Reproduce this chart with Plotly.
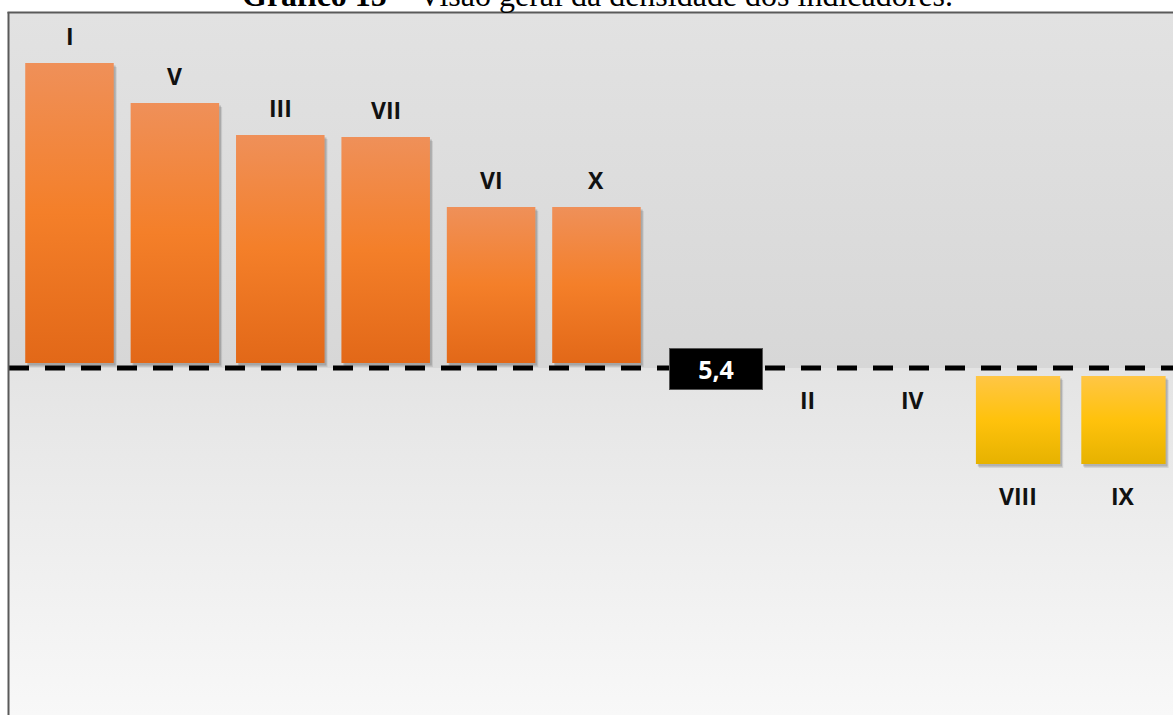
import plotly.graph_objects as go

# Densidade por indicador e média geral
indicadores = ["I", "V", "III", "VII", "VI", "X", "II", "IV", "VIII", "IX"]
densidade = [8.45, 8.05, 7.73, 7.71, 7.01, 7.01, 5.4, 5.4, 4.44, 4.44]
media = 5.4
rotulo_media = "5,4"

# posições no eixo x: a casa 6 fica livre para o rótulo da média
posicoes = [i if i < 6 else i + 1 for i in range(len(indicadores))]
pos_media = 6.13

W, H = 1173, 715
X_RANGE = [-0.574, 10.47]
Y_RANGE = [1.93, 8.95]
LEFT_PX, TOP_PX = 9, 13

GRAD_ACIMA = [[0, "#e26818"], [0.5, "#f47f29"], [1, "#ef9059"]]
GRAD_ABAIXO = [[0, "#e6b200"], [0.5, "#ffc20c"], [1, "#ffc645"]]

fig = go.Figure()


def retangulo(x0, x1, y0, y1):
    return [x0, x1, x1, x0, x0], [y0, y0, y1, y1, y0]


# fundo em degradê (parte superior e inferior à linha da média)
for (y0, y1, cs) in [
    (media, Y_RANGE[1], [[0, "#d7d7d7"], [1, "#e2e2e2"]]),
    (Y_RANGE[0], media, [[0, "#f8f8f8"], [1, "#e4e4e4"]]),
]:
    xs, ys = retangulo(X_RANGE[0], X_RANGE[1], y0, y1)
    fig.add_trace(go.Scatter(
        x=xs, y=ys, mode="lines", fill="toself", line=dict(width=0),
        fillgradient=dict(type="vertical", colorscale=cs, start=y0, stop=y1),
        hoverinfo="skip", showlegend=False,
    ))

# barras a partir da linha da média, com sombra leve
for nome, x, v in zip(indicadores, posicoes, densidade):
    if v == media:
        continue
    acima = v > media
    meia = 0.42 if acima else 0.40
    base = media + 0.05 if acima else media - 0.08
    y0, y1 = (base, v) if acima else (v, base)
    for dx, dy, a in [(0.028, -0.04, 0.12), (0.018, -0.025, 0.22)]:
        xs, ys = retangulo(x - meia + dx, x + meia + dx, y0 + dy, y1 + dy)
        fig.add_trace(go.Scatter(
            x=xs, y=ys, mode="lines", fill="toself", line=dict(width=0),
            fillcolor=f"rgba(60,60,60,{a})", hoverinfo="skip",
            showlegend=False,
        ))
    xs, ys = retangulo(x - meia, x + meia, y0, y1)
    fig.add_trace(go.Scatter(
        x=xs, y=ys, mode="lines", fill="toself", line=dict(width=0),
        fillgradient=dict(type="vertical",
                          colorscale=GRAD_ACIMA if acima else GRAD_ABAIXO,
                          start=y0, stop=y1),
        hoverinfo="skip", showlegend=False,
    ))

# rótulos dos indicadores
for nome, x, v in zip(indicadores, posicoes, densidade):
    acima = v > media
    fig.add_annotation(
        x=x, y=v, text=nome, showarrow=False,
        yanchor="bottom" if acima else "top",
        yshift=9 if acima else -14,
        font=dict(family="Open Sans", size=23, color="#111111", weight="bold"),
    )

# linha tracejada da média
fig.add_shape(
    type="line", xref="paper", yref="y",
    x0=LEFT_PX / W, x1=1, y0=media, y1=media,
    line=dict(color="black", width=5, dash="20px,16px"),
)

# rótulo da média
fig.add_annotation(
    x=pos_media, y=media, text=rotulo_media, showarrow=False,
    bgcolor="black", bordercolor="#555555", borderwidth=1,
    width=90, height=38, yshift=-1,
    font=dict(family="Open Sans", size=25, color="white", weight="bold"),
)

# moldura (esquerda e topo)
fig.add_shape(type="line", xref="paper", yref="paper",
              x0=(LEFT_PX - 0.5) / W, x1=(LEFT_PX - 0.5) / W,
              y0=0, y1=1 - (TOP_PX - 1) / H,
              line=dict(color="#5a5a5a", width=2))
fig.add_shape(type="line", xref="paper", yref="paper",
              x0=(LEFT_PX - 1.5) / W, x1=1,
              y0=1 - (TOP_PX - 0.5) / H, y1=1 - (TOP_PX - 0.5) / H,
              line=dict(color="#5a5a5a", width=2))

# título
fig.add_annotation(
    xref="paper", yref="paper", x=597 / W, y=1 - 7 / H,
    xanchor="center", yanchor="bottom", yshift=-8, showarrow=False,
    text="<b>Gráfico 15</b> – Visão geral da densidade dos indicadores.",
    font=dict(family="Liberation Serif", size=32, color="black"),
)

fig.update_layout(
    width=W, height=H,
    margin=dict(l=0, r=0, t=0, b=0),
    paper_bgcolor="white", plot_bgcolor="white",
    showlegend=False,
    xaxis=dict(range=X_RANGE, domain=[LEFT_PX / W, 1], visible=False,
               fixedrange=True),
    yaxis=dict(range=Y_RANGE, domain=[0, 1 - TOP_PX / H], visible=False,
               fixedrange=True),
)

fig.write_html("out.html", config={"displayModeBar": False})
